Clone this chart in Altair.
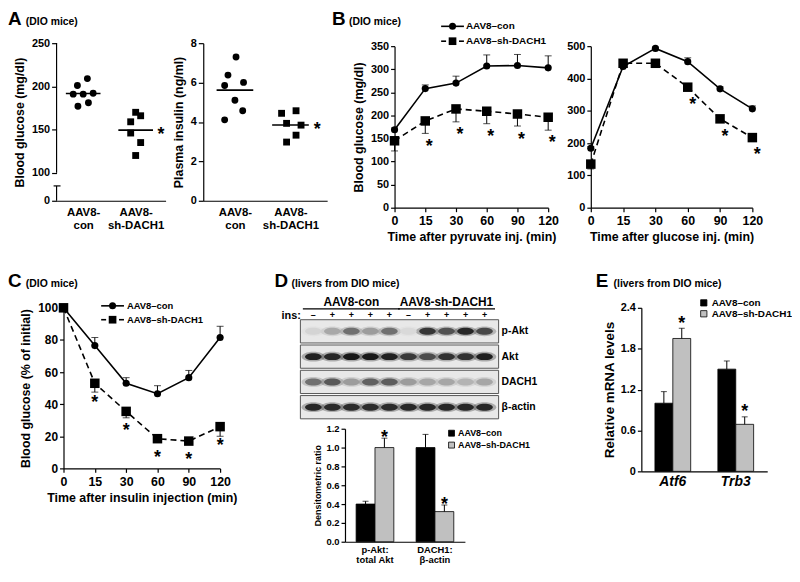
import json
import altair as alt
import pandas as pd

FONT = "Liberation Sans"
INK = "#000000"
GRAY = "#c0c0c0"

CON = "AAV8–con"
SH = "AAV8–sh-DACH1"
groups = [CON, SH]

panel_letters = ["A", "B", "C", "D", "E"]
panel_notes = ["(DIO mice)", "(DIO mice)", "(DIO mice)",
               "(livers from DIO mice)", "(livers from DIO mice)"]

# ---------------- Panel A (dot plots) ----------------
a_categories = [["AAV8-", "con"], ["AAV8-", "sh-DACH1"]]
a_glu_con = [209, 201, 191, 191, 192, 181, 177]
a_glu_con_jit = [0.08, -0.11, -0.19, 0.0, 0.19, 0.10, -0.10]
a_glu_sh = [170, 166, 159, 146, 135, 120]
a_glu_sh_jit = [0.0, 0.095, -0.095, -0.095, 0.095, 0.0]
a_glu_ticks = [100, 150, 200, 250]
a_glu_break = [67.6, 84.8]          # lower axis stub (drawn "0" at its foot)
a_ins_con = [7.30, 6.38, 6.01, 5.85, 5.10, 4.57, 4.11]
a_ins_con_jit = [0.02, -0.125, 0.155, -0.185, 0.0, 0.14, -0.185]
a_ins_sh = [4.57, 4.44, 3.93, 3.84, 3.33, 2.98]
a_ins_sh_jit = [0.10, -0.16, -0.07, 0.19, 0.10, -0.07]
a_ins_ticks = [0, 2, 4, 6, 8]

# ---------------- Panels B, C (time courses) ----------------
time_labels = ["0", "15", "30", "60", "90", "120"]
pyr_con = [169, 258, 270, 307, 308, 303]
pyr_con_err = [4, 8, 15, 24, 24, 26]
pyr_sh = [145, 188, 214, 209, 203, 196]
pyr_sh_err = [22, 27, 28, 27, 26, 28]
pyr_star = [False, True, True, True, True, True]

gtt_con = [184, 437, 493, 452, 368, 306]
gtt_con_err = [5, 10, 4, 12, 6, 9]
gtt_sh = [135, 447, 447, 373, 275, 217]
gtt_sh_err = [15, 8, 6, 8, 8, 6]
gtt_star = [False, False, False, True, True, True]

itt_con = [100, 76.5, 53, 46.5, 56.5, 81.5]
itt_con_err = [0, 5, 3.5, 5, 4.5, 7]
itt_sh = [100, 53, 35.5, 18.5, 17, 26]
itt_sh_err = [0, 5.5, 4, 1, 1, 6]
itt_star = [False, True, True, True, True, True]

# ---------------- Panel D (blot + densitometry) ----------------
blot_rows = ["p-Akt", "Akt", "DACH1", "β-actin"]
blot_ins = ["–", "+", "+", "+", "+", "–", "+", "+", "+", "+"]
blot_pakt = [0.06, 0.25, 0.5, 0.3, 0.5, 0.04, 0.8, 0.65, 0.88, 0.7]
blot_akt = [0.92, 0.88, 0.96, 0.96, 0.92, 0.78, 0.68, 0.82, 0.82, 0.93]
blot_dach1 = [0.5, 0.62, 0.3, 0.58, 0.6, 0.3, 0.26, 0.26, 0.2, 0.26]
blot_actin = [0.88, 0.86, 0.85, 0.85, 0.85, 0.88, 0.88, 0.88, 0.88, 0.88]
blot_groups = ["AAV8-con", "AAV8-sh-DACH1"]
blot_group_lanes = [[1, 5], [6, 10]]

d_categories = [["p-Akt:", "total Akt"], ["DACH1:", "β-actin"]]
d_con = [0.40, 1.00]
d_con_err = [0.03, 0.14]
d_sh = [1.00, 0.32]
d_sh_err = [0.10, 0.07]

# ---------------- Panel E ----------------
e_genes = ["Atf6", "Trb3"]
e_con = [1.00, 1.50]
e_con_err = [0.17, 0.12]
e_sh = [1.95, 0.69]
e_sh_err = [0.15, 0.11]

PATH_BAND = "M-1,0A1,0.42,0,1,0,1,0A1,0.42,0,1,0,-1,0Z"


def header(idx, x, y, note_dx):
    df = pd.DataFrame({"letter": [panel_letters[idx]], "note": [panel_notes[idx]]})
    let = alt.Chart(df).mark_text(align="left", baseline="alphabetic", font=FONT,
                                  fontSize=19, fontWeight="bold", color=INK).encode(
        x=alt.value(x), y=alt.value(y), text="letter:N")
    note = alt.Chart(df).mark_text(align="left", baseline="alphabetic", font=FONT,
                                   fontSize=10.5, fontWeight="bold", color=INK).encode(
        x=alt.value(x + note_dx), y=alt.value(y), text="note:N")
    return [let, note]


def line_legend(lx, ly, gap, font, label_dx):
    """Legend in the style of the figure: a line with its marker, then the label."""
    out = []
    d0 = alt.Chart(pd.DataFrame({"label": [groups[0]]}))
    d1 = alt.Chart(pd.DataFrame({"label": [groups[1]]}))
    txt = dict(align="left", baseline="middle", font=FONT, fontSize=font, fontWeight="bold", color=INK)
    out.append(d0.mark_rule(color=INK, strokeWidth=1.6).encode(
        x=alt.value(lx), x2=alt.value(lx + 23), y=alt.value(ly)))
    out.append(d0.mark_point(shape="circle", filled=True, opacity=1, color=INK, size=50).encode(
        x=alt.value(lx + 11.5), y=alt.value(ly)))
    out.append(d0.mark_text(**txt).encode(x=alt.value(lx + label_dx), y=alt.value(ly), text="label:N"))
    y1 = ly + gap
    out.append(d1.mark_rule(color=INK, strokeWidth=1.6).encode(
        x=alt.value(lx), x2=alt.value(lx + 5), y=alt.value(y1)))
    out.append(d1.mark_rule(color=INK, strokeWidth=1.6).encode(
        x=alt.value(lx + 18), x2=alt.value(lx + 23), y=alt.value(y1)))
    out.append(d1.mark_point(shape="square", filled=True, opacity=1, color=INK, size=60).encode(
        x=alt.value(lx + 11.5), y=alt.value(y1)))
    out.append(d1.mark_text(**txt).encode(x=alt.value(lx + label_dx), y=alt.value(y1), text="label:N"))
    return out


def dot_panel(con, con_jit, sh, sh_jit, ydomain, yticks, ytitle, xdomain, xrange, width, height,
              broken=None, extra=None):
    rows = []
    for v, j in zip(con, con_jit):
        rows.append({"g": 0, "grp": CON, "xpos": j, "value": v})
    for v, j in zip(sh, sh_jit):
        rows.append({"g": 1, "grp": SH, "xpos": 1 + j, "value": v})
    df = pd.DataFrame(rows)
    base = alt.Chart(df)
    x = alt.X("xpos:Q", scale=alt.Scale(domain=xdomain, range=xrange, nice=False, zero=False),
              axis=alt.Axis(values=[0, 1], labelExpr=json.dumps(a_categories) + "[datum.value]",
                            ticks=False, title=None, labelFontSize=11.5, labelPadding=6,
                            labelLineHeight=13, labelFlush=False))
    yaxis = dict(values=yticks, title=ytitle, labelFontSize=11, titleFontSize=12.5,
                 tickSize=5, labelPadding=2, titlePadding=5)
    if broken is not None:
        yaxis["values"] = [broken[0]] + yticks
        yaxis["labelExpr"] = f"datum.value < {yticks[0]} ? '0' : datum.label"
        yaxis["domain"] = False
    y = alt.Y("value:Q", scale=alt.Scale(domain=ydomain, nice=False, zero=False),
              axis=alt.Axis(**yaxis))
    layers = []
    if broken is not None:
        seg = pd.DataFrame({"value": [broken[0], yticks[0]], "value2": [broken[1], ydomain[1]]})
        layers.append(alt.Chart(seg).mark_rule(color=INK, strokeWidth=1.2).encode(
            x=alt.value(0), y=y, y2="value2:Q"))
        cap = pd.DataFrame({"value": [broken[1]]})
        layers.append(alt.Chart(cap).mark_rule(color=INK, strokeWidth=1.2).encode(
            x=alt.value(-3), x2=alt.value(4), y=y))
    layers.append(base.transform_filter(alt.FieldEqualPredicate(field="g", equal=0)).mark_point(
        shape="circle", filled=True, opacity=1, color=INK, size=48).encode(x=x, y=y))
    layers.append(base.transform_filter(alt.FieldEqualPredicate(field="g", equal=1)).mark_point(
        shape="square", filled=True, opacity=1, color=INK, size=48).encode(x=x, y=y))
    mean = base.transform_aggregate(value="mean(value)", groupby=["g"])
    layers.append(mean.transform_calculate(xpos="datum.g - 0.33", xpos2="datum.g + 0.33")
                  .mark_rule(color=INK, strokeWidth=1.6).encode(x=x, x2="xpos2:Q", y=y))
    layers.append(mean.transform_filter("datum.g == 1").transform_calculate(xpos="datum.g + 0.48")
                  .mark_text(text="*", font=FONT, fontSize=18, fontWeight="bold", color=INK,
                             baseline="middle", dy=5).encode(x=x, y=y))
    if extra:
        layers += extra
    return alt.layer(*layers).properties(width=width, height=height)


def time_panel(con, con_err, sh, sh_err, star, *, width, height, ydomain, yticks, xtitle, ytitle,
               star_dx, star_dy, ylabel_size, yrange=None, xrange=None, yoffset=0, extra=None):
    rows = []
    for i in range(len(time_labels)):
        rows.append(dict(ti=i, grp=CON, value=con[i], end=con[i] + con_err[i], star=False))
        rows.append(dict(ti=i, grp=SH, value=sh[i], end=sh[i] - sh_err[i], star=bool(star[i])))
    df = pd.DataFrame(rows)
    base = alt.Chart(df)
    xs = dict(domain=[0, len(time_labels) - 1], nice=False, zero=False)
    if xrange is not None:
        xs["range"] = xrange
    ys = dict(domain=ydomain, nice=False, zero=False)
    if yrange is not None:
        ys["range"] = yrange
    xax = dict(values=list(range(len(time_labels))),
               labelExpr=json.dumps(time_labels) + "[datum.value]",
               labelFontSize=12.5, titleFontSize=12.5,
               labelPadding=3, titlePadding=4, tickSize=4, labelFlush=False, title=xtitle)
    x = alt.X("ti:Q", scale=alt.Scale(**xs), axis=alt.Axis(**xax))
    yax = dict(values=yticks, labelFontSize=ylabel_size, titleFontSize=12.5, offset=yoffset,
               tickSize=4, labelPadding=2, titlePadding=5)
    yax["title"] = ytitle if ytitle else None
    y = alt.Y("value:Q", scale=alt.Scale(**ys), axis=alt.Axis(**yax))
    is_con = alt.FieldEqualPredicate(field="grp", equal=CON)
    is_sh = alt.FieldEqualPredicate(field="grp", equal=SH)
    layers = [
        base.transform_filter(is_con).mark_line(color=INK, strokeWidth=1.6).encode(x=x, y=y),
        base.transform_filter(is_sh).mark_line(color=INK, strokeWidth=1.6, strokeDash=[6, 4]).encode(x=x, y=y),
        base.mark_rule(color=INK, strokeWidth=1).encode(x=x, y=y, y2="end:Q"),
        base.transform_calculate(value="datum.end").mark_tick(
            orient="horizontal", color=INK, thickness=1, size=7).encode(x=x, y=y),
        base.transform_filter(is_con).mark_point(shape="circle", filled=True, opacity=1,
                                                 color=INK, size=52).encode(x=x, y=y),
        base.transform_filter(is_sh).mark_point(shape="square", filled=True, opacity=1,
                                                color=INK, size=92).encode(x=x, y=y),
        base.transform_filter("datum.star").mark_text(
            text="*", font=FONT, fontSize=18, fontWeight="bold", color=INK,
            baseline="middle", dx=star_dx, dy=star_dy).encode(x=x, y=y),
    ]
    if extra:
        layers += extra
    return alt.layer(*layers).properties(width=width, height=height)


def bar_panel(cats, con, con_err, sh, sh_err, *, width, height, ydomain, yticks, ytitle,
              label_size, title_size, cat_size, cat_style, cat_expr, pad_outer, legend_xy,
              legend_font, symbol_size, label_offset, star_dy, line_height, ylabel_expr=None,
              extra=None):
    rows = []
    for i in range(len(cats)):
        rows.append(dict(ci=i, grp=CON, value=con[i], end=con[i] + con_err[i], star=False))
        rows.append(dict(ci=i, grp=SH, value=sh[i], end=sh[i] + sh_err[i], star=True))
    df = pd.DataFrame(rows)
    base = alt.Chart(df)
    x = alt.X("ci:O", scale=alt.Scale(paddingInner=0, paddingOuter=0),
              axis=alt.Axis(labelExpr=cat_expr, title=None, ticks=False, labelAngle=0,
                            labelFontSize=cat_size, labelFontStyle=cat_style, labelPadding=3,
                            labelLineHeight=line_height))
    xo = alt.XOffset("grp:N", sort=groups, scale=alt.Scale(paddingInner=0, paddingOuter=pad_outer))
    yax = dict(values=yticks, title=ytitle, labelFontSize=label_size, titleFontSize=title_size,
               tickSize=4, labelPadding=2, titlePadding=4)
    if ylabel_expr:
        yax["labelExpr"] = ylabel_expr
    y = alt.Y("value:Q", scale=alt.Scale(domain=ydomain, nice=False, zero=False), axis=alt.Axis(**yax))
    layers = [
        base.mark_bar(stroke=INK, strokeWidth=0.8).encode(
            x=x, xOffset=xo, y=y,
            color=alt.Color("grp:N", scale=alt.Scale(domain=groups, range=[INK, GRAY]),
                            legend=alt.Legend(orient="none", legendX=legend_xy[0], legendY=legend_xy[1],
                                              title=None, padding=0, symbolType="square",
                                              symbolSize=symbol_size, symbolStrokeColor=INK,
                                              symbolStrokeWidth=0.8, labelFontSize=legend_font,
                                              labelOffset=label_offset, rowPadding=1))),
        base.mark_rule(color=INK, strokeWidth=1).encode(x=x, xOffset=xo, y=y, y2="end:Q"),
        base.transform_calculate(value="datum.end").mark_tick(
            orient="horizontal", color=INK, thickness=1, size=6).encode(x=x, xOffset=xo, y=y),
        base.transform_filter("datum.star").transform_calculate(value="datum.end").mark_text(
            text="*", font=FONT, fontSize=18, fontWeight="bold", color=INK, baseline="middle",
            dy=star_dy).encode(x=x, xOffset=xo, y=y),
    ]
    if extra:
        layers += extra
    return alt.layer(*layers).properties(width=width, height=height)


# ---------------- build panels ----------------
A1 = dot_panel(a_glu_con, a_glu_con_jit, a_glu_sh, a_glu_sh_jit,
               ydomain=[a_glu_break[0], 250], yticks=a_glu_ticks, ytitle="Blood glucose (mg/dl)",
               xdomain=[-0.507, 1.57], xrange=[0, 110], width=148, height=159, broken=a_glu_break,
               extra=header(0, -49, -18, 18))
A2 = dot_panel(a_ins_con, a_ins_con_jit, a_ins_sh, a_ins_sh_jit,
               ydomain=[0, 8], yticks=a_ins_ticks, ytitle="Plasma insulin (ng/ml)",
               xdomain=[-0.57, 1.66], xrange=[0, 125], width=193, height=159)

B1 = time_panel(pyr_con, pyr_con_err, pyr_sh, pyr_sh_err, pyr_star, width=198, height=166,
                ydomain=[0, 350], yticks=list(range(0, 351, 50)), yrange=[166, 3], xrange=[0, 155],
                xtitle="Time after pyruvate inj. (min)", ytitle="Blood glucose (mg/dl)",
                star_dx=4, star_dy=26, ylabel_size=11,
                extra=header(1, -63, -18, 17) + line_legend(47, -17, 15, 10, 25))
B2 = time_panel(gtt_con, gtt_con_err, gtt_sh, gtt_sh_err, gtt_star, width=163, height=166,
                ydomain=[0, 500], yticks=list(range(0, 501, 100)), yrange=[166, 3],
                xtitle="Time after glucose inj. (min)", ytitle=None,
                star_dx=5, star_dy=18, ylabel_size=11)

C = time_panel(itt_con, itt_con_err, itt_sh, itt_sh_err, itt_star, width=165, height=162,
               ydomain=[0, 100], yticks=list(range(0, 101, 20)), xrange=[7, 165], yoffset=-7,
               xtitle="Time after insulin injection (min)", ytitle="Blood glucose (% of initial)",
               star_dx=0, star_dy=19.5, ylabel_size=12,
               extra=header(2, -49, -21, 18) + line_legend(45, -2, 14, 9.5, 26))

# blot
band_rows = []
for r, vals in zip(blot_rows, [blot_pakt, blot_akt, blot_dach1, blot_actin]):
    for i, v in enumerate(vals):
        band_rows.append({"lane": i + 1, "row": r, "intensity": v})
bands = pd.DataFrame(band_rows)
lanes = pd.DataFrame({"lane": list(range(1, len(blot_ins) + 1)), "ins": blot_ins})
rowsdf = pd.DataFrame({"row": blot_rows})
grpdf = pd.DataFrame({
    "name": blot_groups,
    "lane": [(a + b) / 2 for a, b in blot_group_lanes],
    "lo": [a for a, b in blot_group_lanes],
    "hi": [b for a, b in blot_group_lanes],
})
xb = alt.X("lane:Q", scale=alt.Scale(domain=[0.32, 10.74], range=[0, 200], nice=False, zero=False), axis=None)
yb = alt.Y("row:N", sort=blot_rows, scale=alt.Scale(range=[12, 112], paddingInner=0.08, paddingOuter=0), axis=None)
band_color = alt.Color("intensity:Q", scale=alt.Scale(domain=[0, 1], range=["#e2e2e2", "#060606"]), legend=None)
blot = alt.layer(
    alt.Chart(rowsdf).mark_rect(fill="#e8e8e8", stroke="#555555", strokeWidth=1).encode(
        x=alt.value(0), x2=alt.value(200), y=yb),
    alt.Chart(bands).mark_point(shape=PATH_BAND, filled=True, opacity=0.3, size=560).encode(
        x=xb, y=yb, color=band_color),
    alt.Chart(bands).mark_point(shape=PATH_BAND, filled=True, opacity=0.95, size=280).encode(
        x=xb, y=yb, color=band_color),
    alt.Chart(rowsdf).mark_text(align="left", baseline="middle", font=FONT, fontSize=10.5,
                                fontWeight="bold", color=INK).encode(
        x=alt.value(203), y=yb, text="row:N"),
    alt.Chart(lanes).mark_text(baseline="middle", font=FONT, fontSize=9, fontWeight="bold",
                               color=INK).encode(x=xb, y=alt.value(7), text="ins:N"),
    alt.Chart(pd.DataFrame({"t": ["ins:"]})).mark_text(align="left", baseline="alphabetic", font=FONT,
                                                      fontSize=11, fontWeight="bold", color=INK).encode(
        x=alt.value(-19), y=alt.value(11), text="t:N"),
    alt.Chart(grpdf).mark_text(baseline="alphabetic", font=FONT, fontSize=12, fontWeight="bold",
                               color=INK).encode(x=xb, y=alt.value(-2), text="name:N"),
    alt.Chart(grpdf).transform_calculate(lane="datum.lo - 0.55", lane2="datum.hi + 0.55").mark_rule(
        color=INK, strokeWidth=1.2).encode(x=xb, x2="lane2:Q", y=alt.value(1)),
    *header(3, -26, -21, 17),
).properties(width=211, height=112)

Dbar = bar_panel(d_categories, d_con, d_con_err, d_sh, d_sh_err, width=121, height=114,
                 ydomain=[0, 1.2], yticks=[0, 0.2, 0.4, 0.6, 0.8, 1, 1.2],
                 ytitle="Densitometric ratio", label_size=9.5, title_size=9, cat_size=9.5,
                 cat_style="normal", cat_expr=json.dumps(d_categories) + "[datum.value]",
                 pad_outer=0.59, legend_xy=(103, 0), legend_font=9, symbol_size=36,
                 label_offset=2, star_dy=0, line_height=10)

E = bar_panel(e_genes, e_con, e_con_err, e_sh, e_sh_err, width=127, height=165,
              ydomain=[0, 2.4], yticks=[0, 0.6, 1.2, 1.8, 2.4],
              ytitle="Relative mRNA levels", label_size=11, title_size=13.5, cat_size=14,
              cat_style="italic", cat_expr=json.dumps(e_genes) + "[datum.value]",
              pad_outer=0.76, legend_xy=(58, -10), legend_font=10, symbol_size=40,
              label_offset=3, star_dy=-4.5, line_height=15,
              ylabel_expr="datum.value == 0 ? '0' : format(datum.value, '.1f')",
              extra=header(4, -46, -21, 18))

IND = dict(x="independent", y="independent", color="independent", shape="independent",
           size="independent", opacity="independent", strokeDash="independent",
           xOffset="independent")


def hc(*charts, spacing, bounds="full"):
    return alt.hconcat(*charts, spacing=spacing, bounds=bounds).resolve_scale(**IND)


def vc(*charts, spacing, bounds="full", center=False):
    return alt.vconcat(*charts, spacing=spacing, bounds=bounds, center=center).resolve_scale(**IND)


row1 = hc(A1, A2, B1, B2, spacing=0, bounds="flush")
Dcol = vc(blot, Dbar, spacing=10, bounds="flush", center=True)
row2 = hc(hc(C, Dcol, spacing=37), E, spacing=58)

chart = vc(row1, row2, spacing=29).properties(
    padding={"left": 0, "top": 0, "right": 0, "bottom": 0}
).configure(font=FONT).configure_view(
    stroke=None
).configure_axis(
    labelFont=FONT, titleFont=FONT, labelFontWeight="bold", titleFontWeight="bold",
    labelColor=INK, titleColor=INK, domainColor=INK, tickColor=INK, domainWidth=1.2,
    tickWidth=1.2, grid=False
).configure_legend(
    labelFont=FONT, labelFontWeight="bold", labelColor=INK
)

chart.save("out.html", embed_options={"renderer": "svg", "actions": False})
